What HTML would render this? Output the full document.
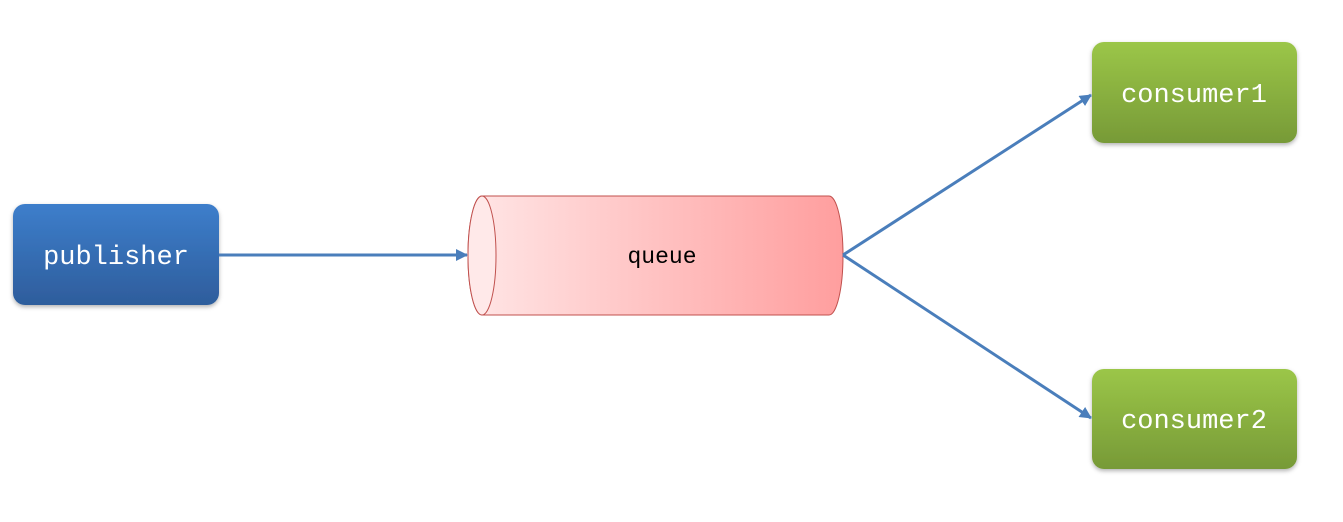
<!DOCTYPE html>
<html><head><style>
body{margin:0;background:#fff;width:1343px;height:517px;overflow:hidden}
</style></head><body>
<svg width="1343" height="517" xmlns="http://www.w3.org/2000/svg">
<defs>
<linearGradient id="b" x1="0" y1="0" x2="0" y2="1"><stop offset="0" stop-color="#3d7ecb"/><stop offset="1" stop-color="#2e5d9c"/></linearGradient>
<linearGradient id="g" x1="0" y1="0" x2="0" y2="1"><stop offset="0" stop-color="#9bc648"/><stop offset="1" stop-color="#779a37"/></linearGradient>
<linearGradient id="r" x1="0" y1="0" x2="1" y2="0"><stop offset="0" stop-color="#ffe6e6"/><stop offset="1" stop-color="#ff9e9e"/></linearGradient>
<filter id="s" x="-10%" y="-10%" width="120%" height="130%"><feDropShadow dx="0" dy="2" stdDeviation="2" flood-opacity="0.3"/></filter>
<marker id="a" markerWidth="12" markerHeight="12" refX="11" refY="6" orient="auto" markerUnits="userSpaceOnUse"><path d="M0,0 L12,6 L0,12 z" fill="#4a7ebb"/></marker>
</defs>
<rect x="13" y="204" width="206" height="101" rx="12" fill="url(#b)" filter="url(#s)"/>
<text x="116" y="264" font-family="Liberation Mono, monospace" font-size="27" fill="#fff" text-anchor="middle">publisher</text>
<rect x="1092" y="42" width="205" height="101" rx="12" fill="url(#g)" filter="url(#s)"/>
<text x="1194" y="102" font-family="Liberation Mono, monospace" font-size="27" fill="#fff" text-anchor="middle">consumer1</text>
<rect x="1092" y="369" width="205" height="100" rx="12" fill="url(#g)" filter="url(#s)"/>
<text x="1194" y="428" font-family="Liberation Mono, monospace" font-size="27" fill="#fff" text-anchor="middle">consumer2</text>
<path d="M482,196 L829,196 A14,59.5 0 0 1 829,315 L482,315 A14,59.5 0 0 1 482,196 z" fill="url(#r)" stroke="#c0504d" stroke-width="1"/>
<ellipse cx="482" cy="255.5" rx="14" ry="59.5" fill="#ffe9e9" stroke="#c0504d" stroke-width="1"/>
<text x="662" y="263" font-family="Liberation Mono, monospace" font-size="23" fill="#000" text-anchor="middle">queue</text>
<line x1="219" y1="255" x2="467" y2="255" stroke="#4a7ebb" stroke-width="3" marker-end="url(#a)"/>
<line x1="843" y1="255" x2="1091" y2="95" stroke="#4a7ebb" stroke-width="3" marker-end="url(#a)"/>
<line x1="843" y1="255" x2="1091" y2="418" stroke="#4a7ebb" stroke-width="3" marker-end="url(#a)"/>
</svg>
</body></html>
